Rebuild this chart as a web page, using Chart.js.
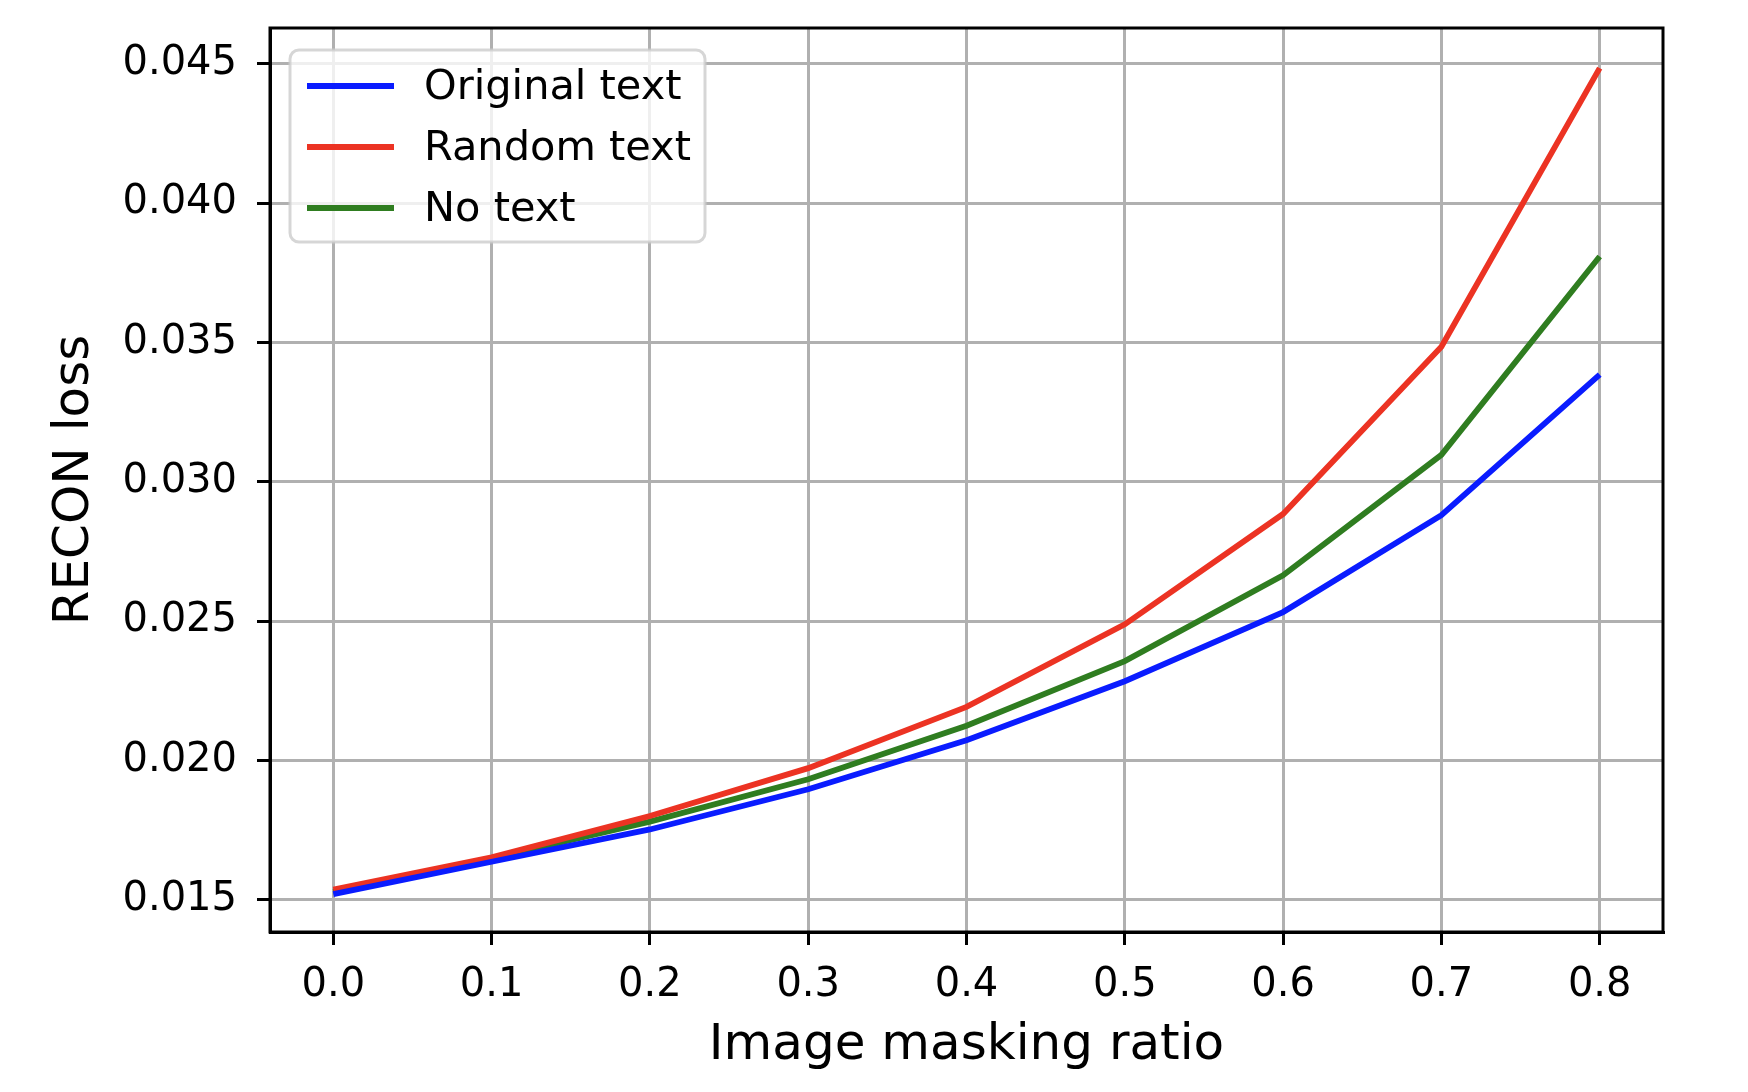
<!DOCTYPE html>
<html>
<head>
<meta charset="utf-8">
<script src="https://cdn.jsdelivr.net/npm/chart.js@4.4.1/dist/chart.umd.min.js"></script>
<style>
  body { margin: 0; background: #fff; }
  canvas { display: block; }
</style>
</head>
<body>
<canvas id="lossChart" width="1748" height="1092"></canvas>
<script>
// masking ratios on the x axis
const maskRatios = [0.0, 0.1, 0.2, 0.3, 0.4, 0.5, 0.6, 0.7, 0.8];

// RECON loss per series
const originalText = [0.0152, 0.01636, 0.01752, 0.01896, 0.02072, 0.02284, 0.02532, 0.0288, 0.03384];
const randomText   = [0.01536, 0.01652, 0.0180, 0.01972, 0.02192, 0.02488, 0.02884, 0.03484, 0.04484];
const noText       = [0.01528, 0.01648, 0.0178, 0.01932, 0.02124, 0.02356, 0.02664, 0.03096, 0.03808];

const seriesNames = ['Original text', 'Random text', 'No text'];

// tick labels
const xTicks = [0.0, 0.1, 0.2, 0.3, 0.4, 0.5, 0.6, 0.7, 0.8];
const yTicks = [0.015, 0.020, 0.025, 0.030, 0.035, 0.040, 0.045];

const FONT = "'DejaVu Sans', sans-serif";

function toPoints(vals) {
    return maskRatios.map((x, i) => ({ x: x, y: vals[i] }));
}

// axes frame (all four spines) drawn over the lines
const framePlugin = {
    id: 'frame',
    afterDatasetsDraw(chart) {
        const { ctx, chartArea: a } = chart;
        ctx.save();
        ctx.strokeStyle = '#000';
        ctx.lineWidth = 3;
        ctx.strokeRect(a.left, a.top, a.right - a.left, a.bottom - a.top);
        ctx.restore();
    }
};

// matplotlib style legend inside the upper left corner
const insideLegend = {
    id: 'insideLegend',
    afterDraw(chart) {
        const ctx = chart.ctx;
        const x0 = 290, y0 = 50, w = 415, h = 192, r = 9;
        ctx.save();
        ctx.beginPath();
        ctx.roundRect(x0, y0, w, h, r);
        ctx.fillStyle = 'rgba(255,255,255,0.8)';
        ctx.fill();
        ctx.lineWidth = 3;
        ctx.strokeStyle = 'rgba(204,204,204,0.8)';
        ctx.stroke();

        ctx.font = '41.5px ' + FONT;
        ctx.textBaseline = 'middle';
        ctx.fillStyle = '#000';
        chart.data.datasets.forEach((ds, i) => {
            const cy = 86 + i * 61;
            ctx.beginPath();
            ctx.moveTo(307, cy);
            ctx.lineTo(394, cy);
            ctx.strokeStyle = ds.borderColor;
            ctx.lineWidth = 5.8;
            ctx.stroke();
            ctx.fillText(ds.label, 424, cy + 2);
        });
        ctx.restore();
    }
};

const ctx = document.getElementById('lossChart');

new Chart(ctx, {
    type: 'line',
    data: {
        datasets: [
            { label: seriesNames[0], data: toPoints(originalText), borderColor: '#0a1cff' },
            { label: seriesNames[1], data: toPoints(randomText), borderColor: '#ec3323' },
            { label: seriesNames[2], data: toPoints(noText), borderColor: '#2f7d20' }
        ]
    },
    options: {
        responsive: false,
        animation: false,
        devicePixelRatio: 1,
        layout: { padding: { left: 0, top: 28, right: 85, bottom: 0 } },
        elements: {
            line: { borderWidth: 5.8, tension: 0, fill: false },
            point: { radius: 0, hoverRadius: 0 }
        },
        plugins: {
            legend: { display: false },
            tooltip: { enabled: false }
        },
        scales: {
            x: {
                type: 'linear',
                min: -0.04,
                max: 0.84,
                afterBuildTicks: s => { s.ticks = xTicks.map(v => ({ value: v })); },
                afterFit: s => {
                    s.height = 160;
                    s.paddingLeft = 0;
                    s.paddingRight = 0;
                },
                ticks: {
                    color: '#000',
                    font: { family: FONT, size: 40 },
                    padding: 17,
                    maxRotation: 0,
                    callback: v => v.toFixed(1)
                },
                grid: {
                    color: '#b0b0b0',
                    lineWidth: 3,
                    drawTicks: true,
                    tickLength: 13,
                    tickColor: '#000',
                    tickWidth: 3
                },
                border: { display: true, color: '#000', width: 3 },
                title: {
                    display: true,
                    text: 'Image masking ratio',
                    color: '#000',
                    font: { family: FONT, size: 50, lineHeight: 1 },
                    padding: { top: 0, bottom: 21 }
                }
            },
            y: {
                type: 'linear',
                min: 0.01384,
                max: 0.04628,
                afterBuildTicks: s => { s.ticks = yTicks.map(v => ({ value: v })); },
                afterFit: s => {
                    s.width = 270;
                    s.paddingTop = 0;
                    s.paddingBottom = 0;
                },
                ticks: {
                    color: '#000',
                    font: { family: FONT, size: 40 },
                    padding: 20,
                    callback: v => v.toFixed(3)
                },
                grid: {
                    color: '#b0b0b0',
                    lineWidth: 3,
                    drawTicks: true,
                    tickLength: 13,
                    tickColor: '#000',
                    tickWidth: 3
                },
                border: { display: true, color: '#000', width: 3 },
                title: {
                    display: true,
                    text: 'RECON loss',
                    color: '#000',
                    font: { family: FONT, size: 50, lineHeight: 1 },
                    padding: { top: 50, bottom: 0 }
                }
            }
        }
    },
    plugins: [framePlugin, insideLegend]
});
</script>
</body>
</html>
